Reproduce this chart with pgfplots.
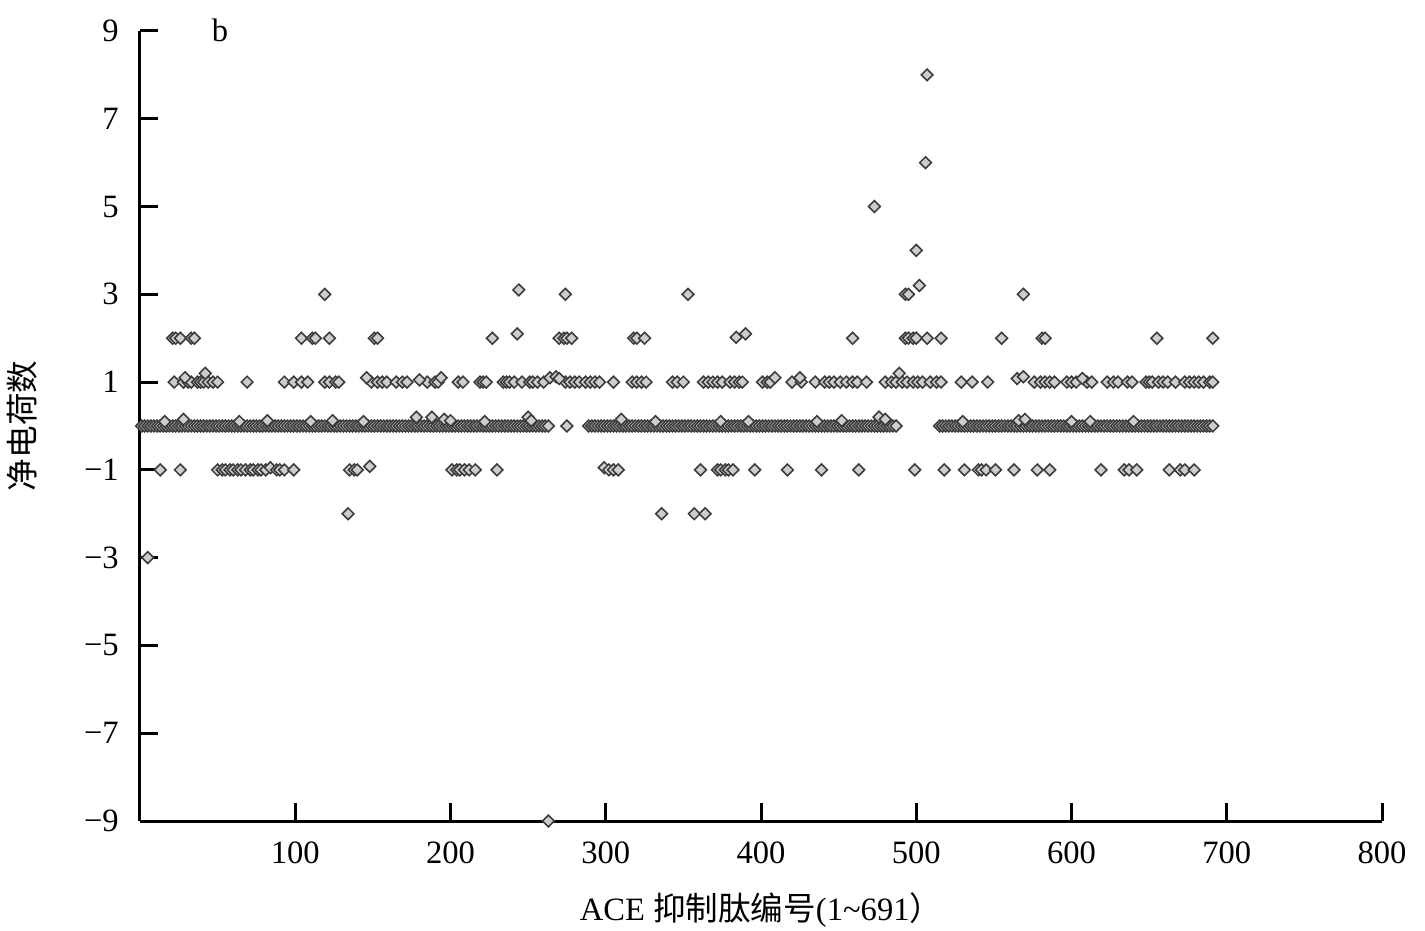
\documentclass[border=0pt]{standalone}
\usepackage{pgfplots}
\pgfplotsset{compat=1.18}
\usepackage{fontspec}
\setmainfont{Liberation Serif}
\newfontfamily\cjk{Noto Sans CJK SC}
\definecolor{markedge}{RGB}{60,60,60}
\definecolor{markfill}{RGB}{205,205,205}
\pgfplotsset{mk/.style={only marks, mark=square*, mark size=1.45pt, mark options={rotate=45, draw=markedge, fill=markfill, line width=0.55pt, solid}}}
\begin{document}
\begin{tikzpicture}
\begin{axis}[
  scale only axis,
  width=434.7pt, height=276.5pt,
  xmin=0, xmax=800, ymin=-9, ymax=9,
  clip=false,
  axis lines=left,
  axis line style={-, line width=1.05pt, black},
  tick align=inside,
  major tick length=6.3pt,
  tick style={line width=1.05pt, black},
  xtick={100,200,300,400,500,600,700,800},
  xticklabels={100,200,300,400,500,600,700,800},
  ytick={-9,-7,-5,-3,-1,1,3,5,7,9},
  yticklabels={−9,−7,−5,−3,−1,1,3,5,7,9},
  tick label style={font=\fontsize{11.4}{13}\selectfont},
  yticklabel style={xshift=-3.9pt},
  xticklabel style={yshift=-3.7pt},
  every axis x label/.style={at={(axis description cs:0.5,0)}, yshift=-31.2pt, anchor=center, font=\fontsize{11.4}{13}\selectfont},
  every axis y label/.style={at={(axis description cs:0,0.5)}, xshift=-41.3pt, rotate=90, anchor=center, font=\fontsize{11.4}{13}\selectfont},
  xlabel={ACE {\cjk 抑制肽编号}(1\char"7E 691{\cjk ）}},
  ylabel={{\cjk 净电荷数}},
]
\coordinate (SW) at (rel axis cs:0,0);
\coordinate (NE) at (rel axis cs:1,1);
% net charge 0
\addplot[mk] coordinates {
(1,0)(3,0)(5,0)(7,0)(9,0)(11,0)(13,0)(15,0)(17,0)(19,0)(21,0)(23,0)(25,0)(27,0)(29,0)(31,0)(33,0)(35,0)(37,0)(39,0)
(41,0)(43,0)(45,0)(47,0)(49,0)(51,0)(53,0)(55,0)(57,0)(59,0)(61,0)(63,0)(65,0)(67,0)(69,0)(71,0)(73,0)(75,0)(77,0)(79,0)
(81,0)(83,0)(85,0)(87,0)(89,0)(91,0)(93,0)(95,0)(97,0)(99,0)(101,0)(103,0)(105,0)(107,0)(109,0)(111,0)(113,0)(115,0)(117,0)(119,0)
(121,0)(123,0)(125,0)(127,0)(129,0)(131,0)(133,0)(135,0)(137,0)(139,0)(141,0)(143,0)(145,0)(147,0)(149,0)(151,0)(153,0)(155,0)(157,0)(159,0)
(161,0)(163,0)(165,0)(167,0)(169,0)(171,0)(173,0)(175,0)(177,0)(179,0)(181,0)(183,0)(185,0)(187,0)(189,0)(191,0)(193,0)(195,0)(197,0)(199,0)
(201,0)(203,0)(205,0)(207,0)(209,0)(211,0)(213,0)(215,0)(217,0)(219,0)(221,0)(223,0)(225,0)(227,0)(229,0)(231,0)(233,0)(235,0)(237,0)(239,0)
(241,0)(243,0)(245,0)(247,0)(249,0)(251,0)(253,0)(255,0)(257,0)(259,0)(261,0)(263,0)(275,0)
(289,0)(291,0)(293,0)(295,0)(297,0)(299,0)(301,0)(303,0)(305,0)(307,0)(309,0)(311,0)(313,0)(315,0)(317,0)(319,0)
(321,0)(323,0)(325,0)(327,0)(329,0)(331,0)(333,0)(335,0)(337,0)(339,0)(341,0)(343,0)(345,0)(347,0)(349,0)(351,0)(353,0)(355,0)(357,0)(359,0)
(361,0)(363,0)(365,0)(367,0)(369,0)(371,0)(373,0)(375,0)(377,0)(379,0)(381,0)(383,0)(385,0)(387,0)(389,0)(391,0)(393,0)(395,0)(397,0)(399,0)
(401,0)(403,0)(405,0)(407,0)(409,0)(411,0)(413,0)(415,0)(417,0)(419,0)(421,0)(423,0)(425,0)(427,0)(429,0)(431,0)(433,0)(435,0)(437,0)(439,0)
(441,0)(443,0)(445,0)(447,0)(449,0)(451,0)(453,0)(455,0)(457,0)(459,0)(461,0)(463,0)(465,0)(467,0)(469,0)(471,0)(473,0)(475,0)(477,0)(479,0)
(481,0)(483,0)(485,0)(487,0)
(515,0)(517,0)(519,0)(521,0)(523,0)(525,0)(527,0)(529,0)(531,0)(533,0)(535,0)(537,0)(539,0)
(541,0)(543,0)(545,0)(547,0)(549,0)(551,0)(553,0)(555,0)(557,0)(559,0)(561,0)(563,0)(565,0)(567,0)(569,0)(571,0)(573,0)(575,0)(577,0)(579,0)
(581,0)(583,0)(585,0)(587,0)(589,0)(591,0)(593,0)(595,0)(597,0)(599,0)(601,0)(603,0)(605,0)(607,0)(609,0)(611,0)(613,0)(615,0)(617,0)(619,0)
(621,0)(623,0)(625,0)(627,0)(629,0)(631,0)(633,0)(635,0)(637,0)(639,0)(641,0)(643,0)(645,0)(647,0)(649,0)(651,0)(653,0)(655,0)(657,0)(659,0)
(661,0)(663,0)(665,0)(667,0)(669,0)(671,0)(673,0)(675,0)(677,0)(679,0)(681,0)(683,0)(685,0)(687,0)(689,0)(691,0)
(16,0.1)(28,0.15)(64,0.1)(82,0.12)(110,0.1)(124,0.12)(144,0.1)(178,0.2)(188,0.2)(196,0.15)(200,0.12)(222,0.1)(250,0.2)(252,0.12)
(310,0.15)(332,0.1)(374,0.1)(392,0.1)(436,0.1)(452,0.12)(476,0.2)(480,0.15)(530,0.1)(566,0.12)(570,0.15)(600,0.1)(612,0.1)(640,0.1)
};
% net charge +1
\addplot[mk] coordinates {
(22,1)(28,1)(31,1)(33,1)(37,1)(39,1)(41,1)(44,1)(47,1)(50,1)(69,1)(93,1)(99,1)(104,1)(108,1)(119,1)(122,1)(126,1)(128,1)
(149,1)(153,1)(156,1)(159,1)(165,1)(169,1)(172,1)(185,1)(190,1)(192,1)(205,1)(208,1)(219,1)(221,1)(223,1)(234,1)(236,1)(238,1)
(241,1)(246,1)(251,1)(253,1)(256,1)(260,1)(274,1)(277,1)(280,1)(283,1)(287,1)(290,1)(293,1)(296,1)(305,1)(317,1)(320,1)(323,1)(326,1)
(343,1)(346,1)(350,1)(363,1)(366,1)(369,1)(372,1)(375,1)(380,1)(383,1)(386,1)(388,1)(401,1)(404,1)(406,1)(420,1)(426,1)(435,1)
(441,1)(444,1)(447,1)(451,1)(455,1)(459,1)(462,1)(468,1)(480,1)(484,1)(487,1)(491,1)(494,1)(498,1)(501,1)(504,1)(509,1)(513,1)(516,1)
(529,1)(536,1)(546,1)(576,1)(580,1)(583,1)(586,1)(589,1)(597,1)(600,1)(603,1)(610,1)(613,1)(623,1)(627,1)(630,1)(636,1)(639,1)
(648,1)(650,1)(652,1)(656,1)(659,1)(662,1)(667,1)(673,1)(676,1)(679,1)(682,1)(685,1)(689,1)(691,1)
(29,1.1)(42,1.2)(146,1.1)(180,1.05)(194,1.1)(264,1.1)(268,1.12)(270,1.08)(409,1.1)(425,1.1)(489,1.2)(565,1.08)(569,1.12)(607,1.08)
};
% net charge +2 and higher
\addplot[mk] coordinates {
(21,2)(23,2)(26,2)(33,2)(35,2)(104,2)(111,2)(113,2)(122,2)(151,2)(153,2)(227,2)(243,2.1)(270,2)(273,2)(275,2)(278,2)
(318,2)(320,2)(325,2)(384,2.02)(390,2.1)(459,2)(493,2)(495,2)(498,2)(500,2)(507,2)(516,2)(555,2)(581,2)(583,2)(655,2)(691,2)
(119,3)(244,3.1)(274,3)(353,3)(493,3)(495,3)(502,3.2)(569,3)
(500,4)(473,5)(506,6)(507,8)
};
% negative net charge
\addplot[mk] coordinates {
(13,-1)(26,-1)(50,-1)(53,-1)(55,-1)(58,-1)(60,-1)(63,-1)(65,-1)(68,-1)(71,-1)(73,-1)(76,-1)(78,-1)(81,-1)(84,-0.95)(88,-1)(90,-1)(93,-1)(99,-1)
(135,-1)(138,-1)(140,-1)(148,-0.92)(201,-1)(204,-1)(206,-1)(209,-1)(212,-1)(216,-1)(230,-1)(299,-0.95)(302,-1)(305,-1)(308,-1)
(361,-1)(372,-1)(374,-1)(377,-1)(379,-1)(382,-1)(396,-1)(417,-1)(439,-1)(463,-1)(499,-1)(518,-1)(531,-1)(540,-1)(542,-1)(545,-1)(551,-1)
(563,-1)(578,-1)(586,-1)(619,-1)(634,-1)(637,-1)(642,-1)(663,-1)(670,-1)(673,-1)(679,-1)
(134,-2)(336,-2)(357,-2)(364,-2)(5,-3)(263,-9)
};
\node[anchor=base, font=\fontsize{11.4}{13}\selectfont] at (axis cs:51.5,8.77) {b};
\end{axis}
\pgfresetboundingbox
\path[use as bounding box] ([xshift=-49pt,yshift=-38.15pt]SW) rectangle ([xshift=15.05pt,yshift=10.85pt]NE);
\end{tikzpicture}
\end{document}
